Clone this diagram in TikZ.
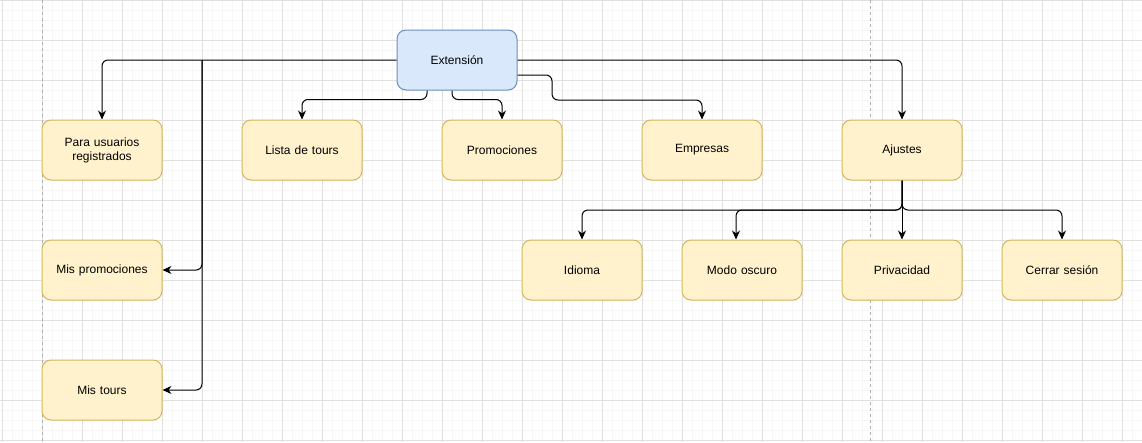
\documentclass[tikz,border=0pt]{standalone}
\usepackage{fontspec}
\setmainfont{Liberation Sans}
\usetikzlibrary{arrows.meta}
\definecolor{yfill}{HTML}{FFF2CC}
\definecolor{ybord}{HTML}{D6B656}
\definecolor{bfill}{HTML}{DAE8FC}
\definecolor{bbord}{HTML}{6C8EBF}
\definecolor{gridminor}{HTML}{F6F6F6}
\definecolor{gridmajor}{HTML}{E0E0E0}
\definecolor{guide}{HTML}{B0B0B0}
\begin{document}
\begin{tikzpicture}[x=1pt,y=-1pt,
  box/.style={draw=ybord, fill=yfill, line width=1pt, rounded corners=9pt,
    minimum width=120pt, minimum height=60pt, inner sep=0pt, align=center,
    font=\fontsize{12pt}{14pt}\selectfont, text width=110pt},
  bluebox/.style={box, draw=bbord, fill=bfill},
  conn/.style={draw=black, line width=1pt, rounded corners=6pt,
    -{Stealth[length=9pt,width=8pt]}}]
\useasboundingbox (0,0) rectangle (1142,442);
\fill[white] (0,0) rectangle (1142,442);
% grid
\foreach \x in {2,12,...,1142} \draw[gridminor, line width=0.8pt] (\x,0) -- (\x,442);
\foreach \y in {0.5,10.5,...,442} \draw[gridminor, line width=0.8pt] (0,\y) -- (1142,\y);
\foreach \x in {2,42,...,1142} \draw[gridmajor, line width=0.8pt] (\x,0) -- (\x,442);
\foreach \y in {0.5,40.5,...,442} \draw[gridmajor, line width=0.8pt] (0,\y) -- (1142,\y);
% guides
\draw[guide, dash pattern=on 3pt off 3pt, line width=0.8pt] (42,0) -- (42,442);
\draw[guide, dash pattern=on 3pt off 3pt, line width=0.8pt] (870,0) -- (870,442);
% nodes
\node[bluebox] (ext) at (457,60) {Extensión};
\node[box] (para) at (102,150) {Para usuarios\\registrados};
\node[box] (lista) at (302,150) {Lista de tours};
\node[box] (promo) at (502,150) {Promociones};
\node[box] (emp) at (702,150) {Empresas};
\node[box] (aj) at (902,150) {Ajustes};
\node[box] (mispromo) at (102,270) {Mis promociones};
\node[box] (mistours) at (102,390) {Mis tours};
\node[box] (idioma) at (582,270) {Idioma};
\node[box] (modo) at (742,270) {Modo oscuro};
\node[box] (priv) at (902,270) {Privacidad};
\node[box] (cerrar) at (1062,270) {Cerrar sesión};
% helper coordinates
\coordinate (j1) at (202,60);
\coordinate (e1) at (552,75);
\coordinate (e2) at (552,100);
\coordinate (aj1) at (902,210);
% connectors
\draw[conn] (ext.west) -| (para.north);
\draw[conn] (j1) |- (mispromo.east);
\draw[conn] (j1) |- (mistours.east);
\draw[conn] ([xshift=-30pt]ext.south) |- ([yshift=20pt]lista.north) -- (lista.north);
\draw[conn] ([xshift=-5pt]ext.south) |- ([yshift=20pt]promo.north) -- (promo.north);
\draw[conn] ([yshift=-15pt]ext.east) -- (e1) -- (e2) -| (emp.north);
\draw[conn] (ext.east) -| (aj.north);
\draw[conn] (aj.south) -- (aj1) -| (idioma.north);
\draw[conn] (aj.south) -- (aj1) -| ([xshift=-6pt]modo.north);
\draw[conn] (aj.south) -- (priv.north);
\draw[conn] (aj.south) -- (aj1) -| (cerrar.north);
\end{tikzpicture}
\end{document}
